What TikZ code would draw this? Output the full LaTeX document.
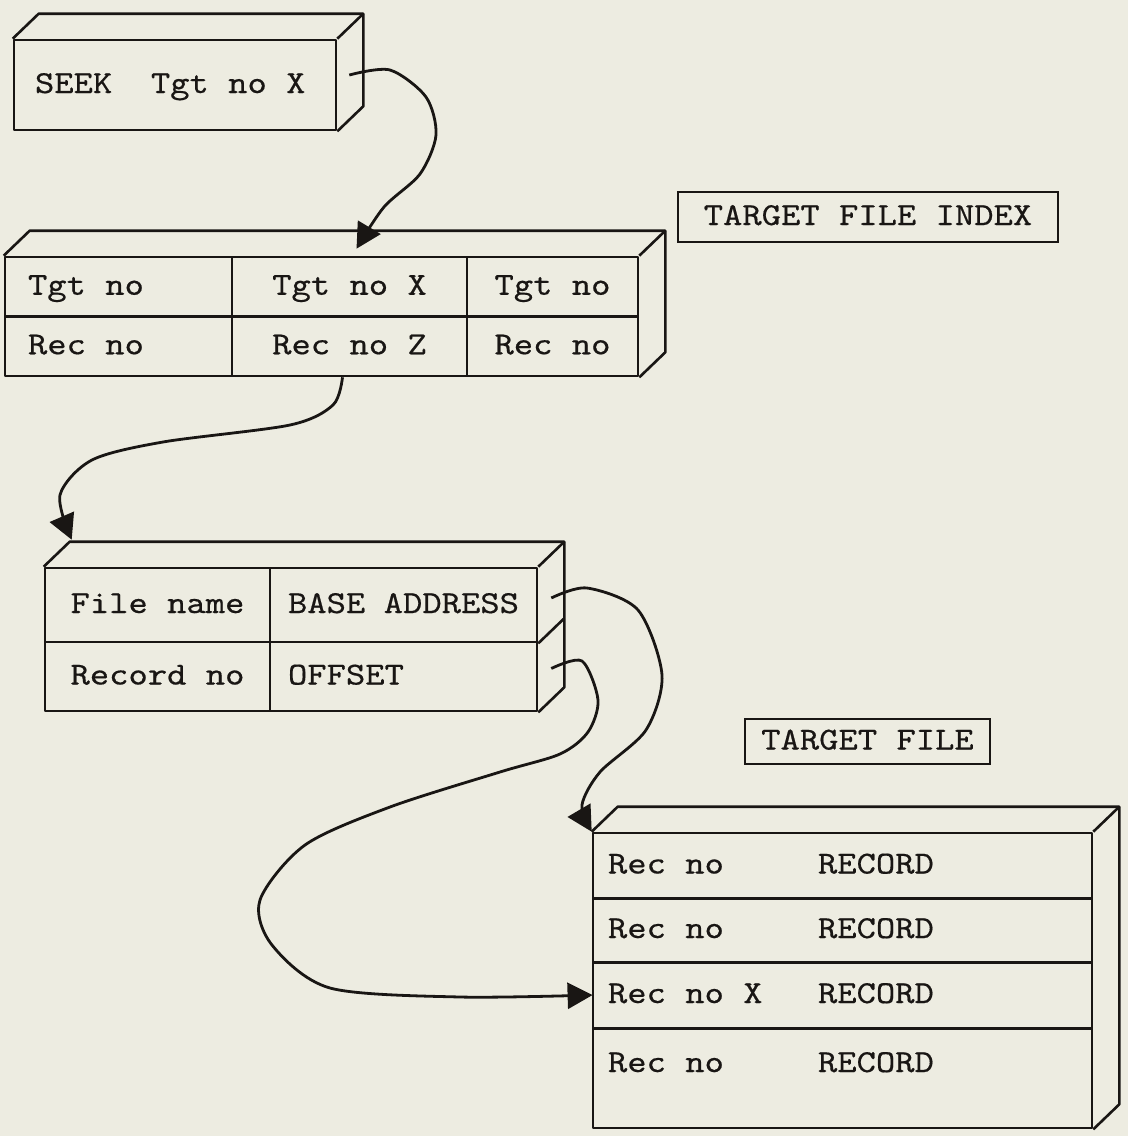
\documentclass[tikz,border=0pt]{standalone}
\usepackage{fontspec}
\newfontfamily\typefont{lmmono10-regular.otf}[FakeStretch=1.15,FakeBold=0.5]
\usetikzlibrary{arrows.meta,calc}
\definecolor{paper}{RGB}{237,236,225}
\definecolor{ink}{RGB}{25,22,20}
\newcommand{\typew}{\typefont\fontsize{16}{19}\selectfont}
\tikzset{
 edge/.style={draw=ink,line width=1.3pt,line join=round},
 cell/.style={edge,inner sep=0pt,text=ink,font=\typew,text height=11pt,text depth=3pt},
 lcell/.style={cell,align=flush left,text width=#1},
 row/.style={inner sep=0pt,inner xsep=7.5pt,text=ink,font=\typew,align=flush left,text width=234.5pt,text height=11pt,text depth=3pt},
 tag/.style={draw=ink,line width=1pt,inner sep=0pt,text=ink,font=\typew,text height=11pt,text depth=3pt},
 link/.style={draw=ink,line width=1.4pt,-{Triangle[length=12.5pt,width=13pt]}}
}
% top and side faces of a slab, from front north west to front south east
\newcommand{\slab}[2]{%
 \draw[edge] (#1) -- ++(26,-25) -| ($(#2)+(26,-25)$) -- (#2);
 \draw[edge] (#2 |- #1) -- ++(26,-25);}
\begin{document}
\begin{tikzpicture}[x=0.5pt,y=-0.5pt]
 \fill[paper] (0,0) rectangle (1128,1136);
 \useasboundingbox (0,0) rectangle (1128,1136);
 % request
 \node[lcell=140pt,inner xsep=10.5pt,minimum height=45pt] (seek) at (175,85) {SEEK\ \ Tgt no X};
 \slab{seek.north west}{seek.south east}
 % target file index
 \node[lcell=90.5pt,inner xsep=11.5pt,minimum height=29.75pt] (tgtA) at (118.5,286.75) {Tgt no};
 \node[cell,minimum width=117.5pt,minimum height=29.75pt] (tgtX) at (349.5,286.75) {Tgt no X};
 \node[cell,minimum width=85.5pt,minimum height=29.75pt] (tgtB) at (552.5,286.75) {Tgt no};
 \node[lcell=90.5pt,inner xsep=11.5pt,minimum height=29.75pt] (recA) at (118.5,346.25) {Rec no};
 \node[cell,minimum width=117.5pt,minimum height=29.75pt] (recZ) at (349.5,346.25) {Rec no Z};
 \node[cell,minimum width=85.5pt,minimum height=29.75pt] (recB) at (552.5,346.25) {Rec no};
 \slab{tgtA.north west}{recB.south east}
 \node[tag,minimum width=190pt,minimum height=25pt] (idxtag) at (868,217) {TARGET FILE INDEX};
 % address table
 \node[cell,minimum width=112.5pt,minimum height=37pt] (fname) at (157.5,605) {File name};
 \node[lcell=115.5pt,inner xsep=9pt,minimum height=37pt] (base) at (403.5,605) {BASE ADDRESS};
 \node[cell,minimum width=112.5pt,minimum height=34.5pt] (recno) at (157.5,676.5) {Record no};
 \node[lcell=115.5pt,inner xsep=9pt,minimum height=34.5pt] (offs) at (403.5,676.5) {OFFSET};
 \slab{fname.north west}{offs.south east}
 \draw[edge] (base.south east) -- ++(26,-25);
 % target file
 \node[tag,minimum width=122.5pt,minimum height=22.5pt] (filetag) at (867.5,741.5) {TARGET FILE};
 \node[edge,minimum width=249.5pt,minimum height=147.5pt,inner sep=0pt] (tfile) at (842.5,980.5) {};
 \node[row,minimum height=32.5pt] (rowA) at (842.5,865.5) {\makebox[105pt][l]{Rec no}RECORD};
 \node[row,minimum height=32pt] (rowB) at (842.5,930) {\makebox[105pt][l]{Rec no}RECORD};
 \node[row,minimum height=33pt] (rowC) at (842.5,995) {\makebox[105pt][l]{Rec no X}RECORD};
 \node[row,minimum height=36pt] (rowD) at (842.5,1064) {\makebox[105pt][l]{Rec no}RECORD};
 \foreach \r in {rowA,rowB,rowC} \draw[edge] (\r.south west) -- (\r.south east);
 \slab{tfile.north west}{tfile.south east}
 % links
 \coordinate (s1) at ($(seek.east)+(12,-10)$);
 \coordinate (e1) at ($(tgtX.north)+(7,-7)$);
 \coordinate (s2) at ($(recZ.south)+(-7,0)$);
 \coordinate (e2) at ($(fname.north west)+(28,-27)$);
 \coordinate (s3) at ($(base.east)+(13,-7)$);
 \coordinate (s4) at ($(offs.east)+(13,-8)$);
 \draw[link] plot[smooth] coordinates {(s1) (390,70) (426,97) (436,135) (420,174) (384,207) (e1)};
 \draw[link] plot[smooth] coordinates {(s2) (333,405) (290,425) (163,442) (92,460) (60,495) (e2)};
 \draw[link] plot[smooth] coordinates {(s3) (587,588) (638,610) (662,675) (646,730) (600,772) (582,805) (tfile.north west)};
 \draw[link] plot[smooth] coordinates {(s4) (582,661) (598,700) (588,732) (560,754) (500,772) (390,807) (305,845) (260,900) (272,945) (330,988) (460,997) (rowC.west)};
\end{tikzpicture}
\end{document}
